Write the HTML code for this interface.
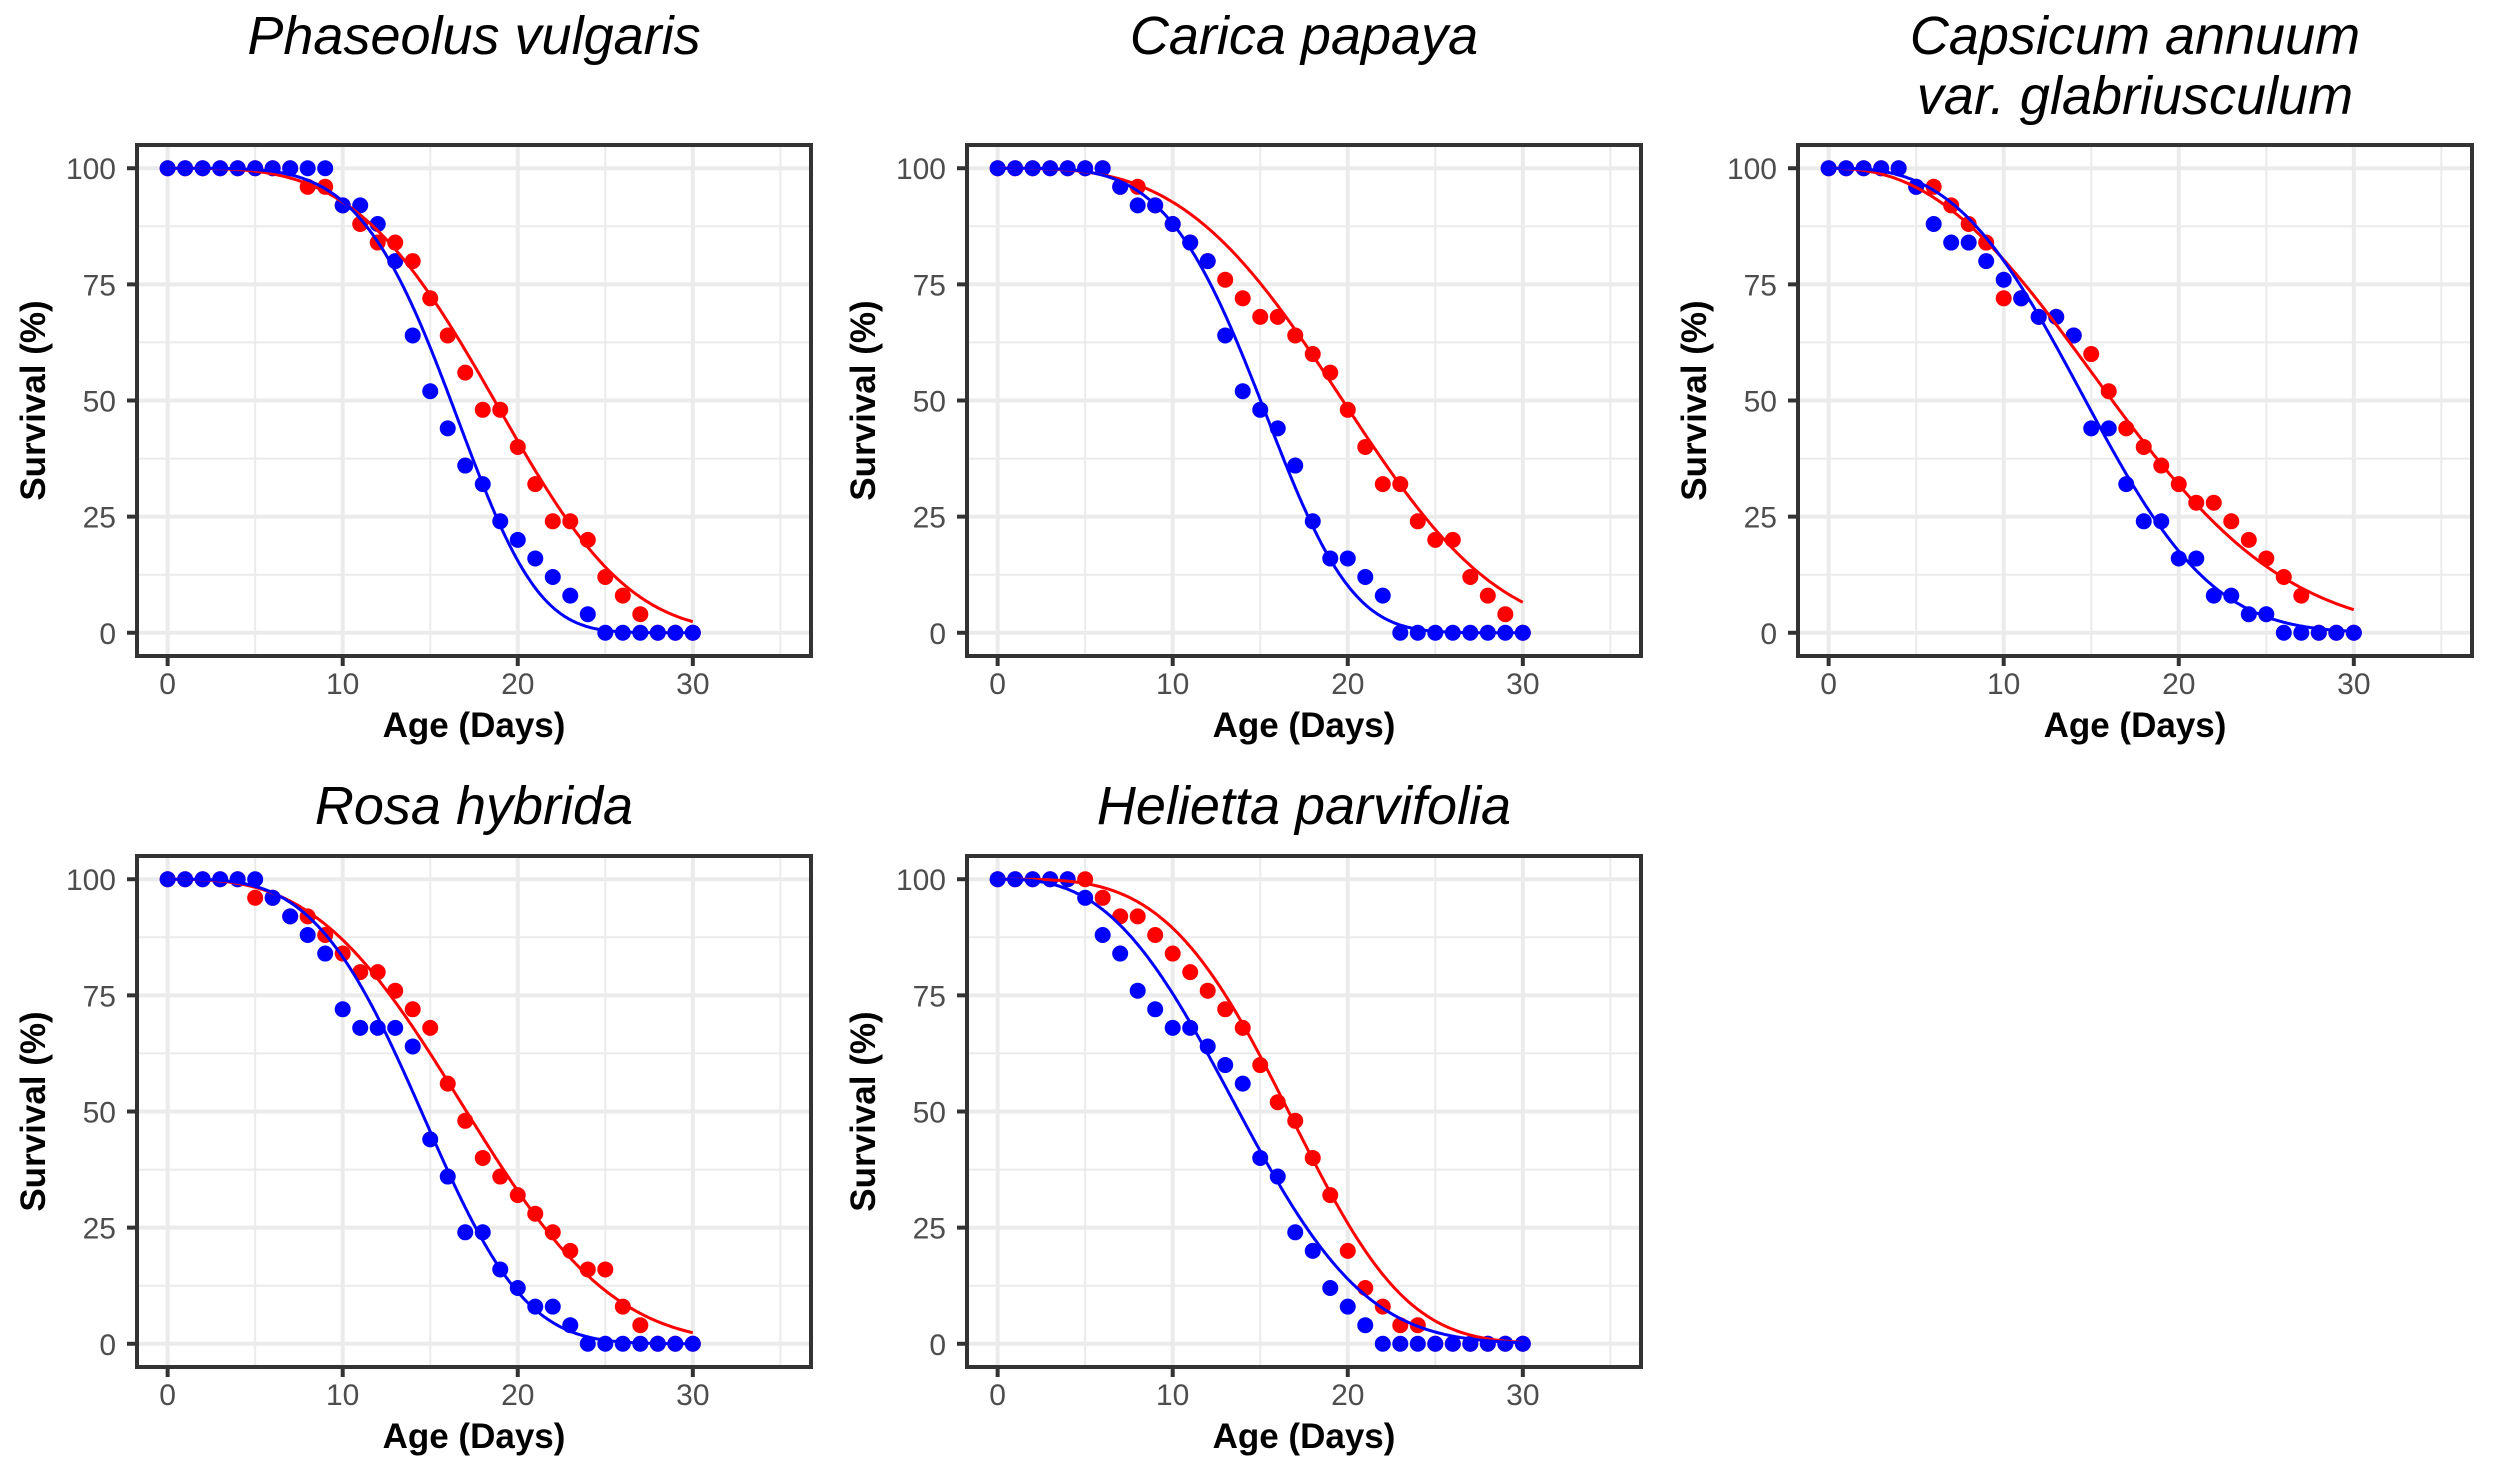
<!DOCTYPE html>
<html><head><meta charset="utf-8">
<style>
html,body{margin:0;padding:0;background:#fff;}
svg{display:block;}
</style></head>
<body>
<svg id="chart" width="2498" height="1476" viewBox="0 0 2498 1476" xmlns="http://www.w3.org/2000/svg" font-family="Liberation Sans, Arial, sans-serif">
<rect width="2498" height="1476" fill="#fff"/>
</svg>
<script>
// ---- data ----
const days = [0,1,2,3,4,5,6,7,8,9,10,11,12,13,14,15,16,17,18,19,20,21,22,23,24,25,26,27,28,29,30];
const titles = [["Phaseolus vulgaris"],["Carica papaya"],["Capsicum annuum","var. glabriusculum"],["Rosa hybrida"],["Helietta parvifolia"]];
const redP1 = [100,100,100,100,100,100,100,100,96,96,92,88,84,84,80,72,64,56,48,48,40,32,24,24,20,12,8,4,0,0,0];
const blueP1 = [100,100,100,100,100,100,100,100,100,100,92,92,88,80,64,52,44,36,32,24,20,16,12,8,4,0,0,0,0,0,0];
const redP2 = [100,100,100,100,100,100,100,96,96,92,88,84,80,76,72,68,68,64,60,56,48,40,32,32,24,20,20,12,8,4,0];
const blueP2 = [100,100,100,100,100,100,100,96,92,92,88,84,80,64,52,48,44,36,24,16,16,12,8,0,0,0,0,0,0,0,0];
const redP3 = [100,100,100,100,100,96,96,92,88,84,72,72,68,68,64,60,52,44,40,36,32,28,28,24,20,16,12,8,0,0,0];
const blueP3 = [100,100,100,100,100,96,88,84,84,80,76,72,68,68,64,44,44,32,24,24,16,16,8,8,4,4,0,0,0,0,0];
const redP4 = [100,100,100,100,100,96,96,92,92,88,84,80,80,76,72,68,56,48,40,36,32,28,24,20,16,16,8,4,0,0,0];
const blueP4 = [100,100,100,100,100,100,96,92,88,84,72,68,68,68,64,44,36,24,24,16,12,8,8,4,0,0,0,0,0,0,0];
const redP5 = [100,100,100,100,100,100,96,92,92,88,84,80,76,72,68,60,52,48,40,32,20,12,8,4,4,0,0,0,0,0,0];
const blueP5 = [100,100,100,100,100,96,88,84,76,72,68,68,64,60,56,40,36,24,20,12,8,4,0,0,0,0,0,0,0,0,0];
// fitted Weibull model parameters per panel (scale, shape)
const redScale = [20.7,22.06,18.9,19.3,18.4];
const redShape = [3.55,3.26,2.38,2.99,3.6];
const blueScale = [17.5,16.4,16.6,16.06,15.7];
const blueShape = [4.66,4.17,2.97,3.58,2.8];
const xTicks = [0,10,20,30];
const xMinor = [5,15,25,35];
const yTicks = [0,25,50,75,100];
const yMinor = [12.5,37.5,62.5,87.5];

const redSeries=[redP1,redP2,redP3,redP4,redP5];
const blueSeries=[blueP1,blueP2,blueP3,blueP4,blueP5];

const NS="http://www.w3.org/2000/svg";
const svg=document.getElementById('chart');
function mk(tag,attrs,parent){const e=document.createElementNS(NS,tag);for(const k in attrs)e.setAttribute(k,attrs[k]);(parent||svg).appendChild(e);return e;}

const lefts=[137,967,1798,137,967];
const tops=[145,145,145,856,856];
const PW=674, PH=511;
const xMin=-1.75,xMax=36.75,yMin=-5,yMax=105;

for(let p=0;p<5;p++){
  const L=lefts[p],T=tops[p];
  const sx=v=>L+(v-xMin)/(xMax-xMin)*PW;
  const sy=v=>T+PH-(v-yMin)/(yMax-yMin)*PH;
  const g=mk('g',{});
  
  
  xMinor.forEach(v=>{const l=mk('line',{x1:sx(v),x2:sx(v),y1:T,y2:T+PH,stroke:'#ebebeb','stroke-width':2},g);});
  yMinor.forEach(v=>{const l=mk('line',{x1:L,x2:L+PW,y1:sy(v),y2:sy(v),stroke:'#ebebeb','stroke-width':2},g);});
  xTicks.forEach(v=>{const l=mk('line',{x1:sx(v),x2:sx(v),y1:T,y2:T+PH,stroke:'#ebebeb','stroke-width':4},g);});
  yTicks.forEach(v=>{const l=mk('line',{x1:L,x2:L+PW,y1:sy(v),y2:sy(v),stroke:'#ebebeb','stroke-width':4},g);});
  const drawPts=(arr,col,nm)=>{arr.forEach((v,i)=>{const c=mk('circle',{cx:sx(days[i]),cy:sy(v),r:8,fill:col},g);});};
  drawPts(redSeries[p],'#ff0000','red');
  drawPts(blueSeries[p],'#0000ff','blue');
  const drawCurve=(b,c,col,nm)=>{let d='';for(let k=0;k<=300;k++){const t=k*0.1;const s=100*Math.exp(-Math.pow(t/b,c));d+=(k?'L':'M')+sx(t).toFixed(1)+','+sy(s).toFixed(1);}const pa=mk('path',{d:d,fill:'none',stroke:col,'stroke-width':3},g);};
  drawCurve(redScale[p],redShape[p],'#ff0000','red');
  drawCurve(blueScale[p],blueShape[p],'#0000ff','blue');
  const br=mk('rect',{x:L,y:T,width:PW,height:PH,fill:'none',stroke:'#333333','stroke-width':4},g);
  
  
  xTicks.forEach(v=>{const l=mk('line',{x1:sx(v),x2:sx(v),y1:T+PH,y2:T+PH+10,stroke:'#333','stroke-width':4},g);
    const t=mk('text',{x:sx(v),y:T+PH+38,'text-anchor':'middle','font-size':30,fill:'#4d4d4d'},g);t.textContent=v;});
  yTicks.forEach(v=>{const l=mk('line',{x1:L-10,x2:L,y1:sy(v),y2:sy(v),stroke:'#333','stroke-width':4},g);
    const t=mk('text',{x:L-21,y:sy(v)+11,'text-anchor':'end','font-size':30,fill:'#4d4d4d'},g);t.textContent=v;});
  const xt=mk('text',{x:L+PW/2,y:T+PH+81,'text-anchor':'middle','font-size':35,'font-weight':'bold',fill:'#000'},g);
  xt.textContent='Age (Days)';
  
  
  const yx=L-92, yy=T+PH/2;
  const yt=mk('text',{x:yx,y:yy,'text-anchor':'middle','font-size':35,'font-weight':'bold',fill:'#000',transform:'rotate(-90 '+yx+' '+yy+')'},g);
  yt.textContent='Survival (%)';
  
  
  const lines=titles[p];
  lines.forEach((s,i)=>{
    const t=mk('text',{x:L+PW/2,y:(p<3?54:T-32)+i*60,'text-anchor':'middle','font-size':54,'font-style':'italic',fill:'#000'},g);
    t.textContent=s;
    
    });
}
</script>
</body></html>
